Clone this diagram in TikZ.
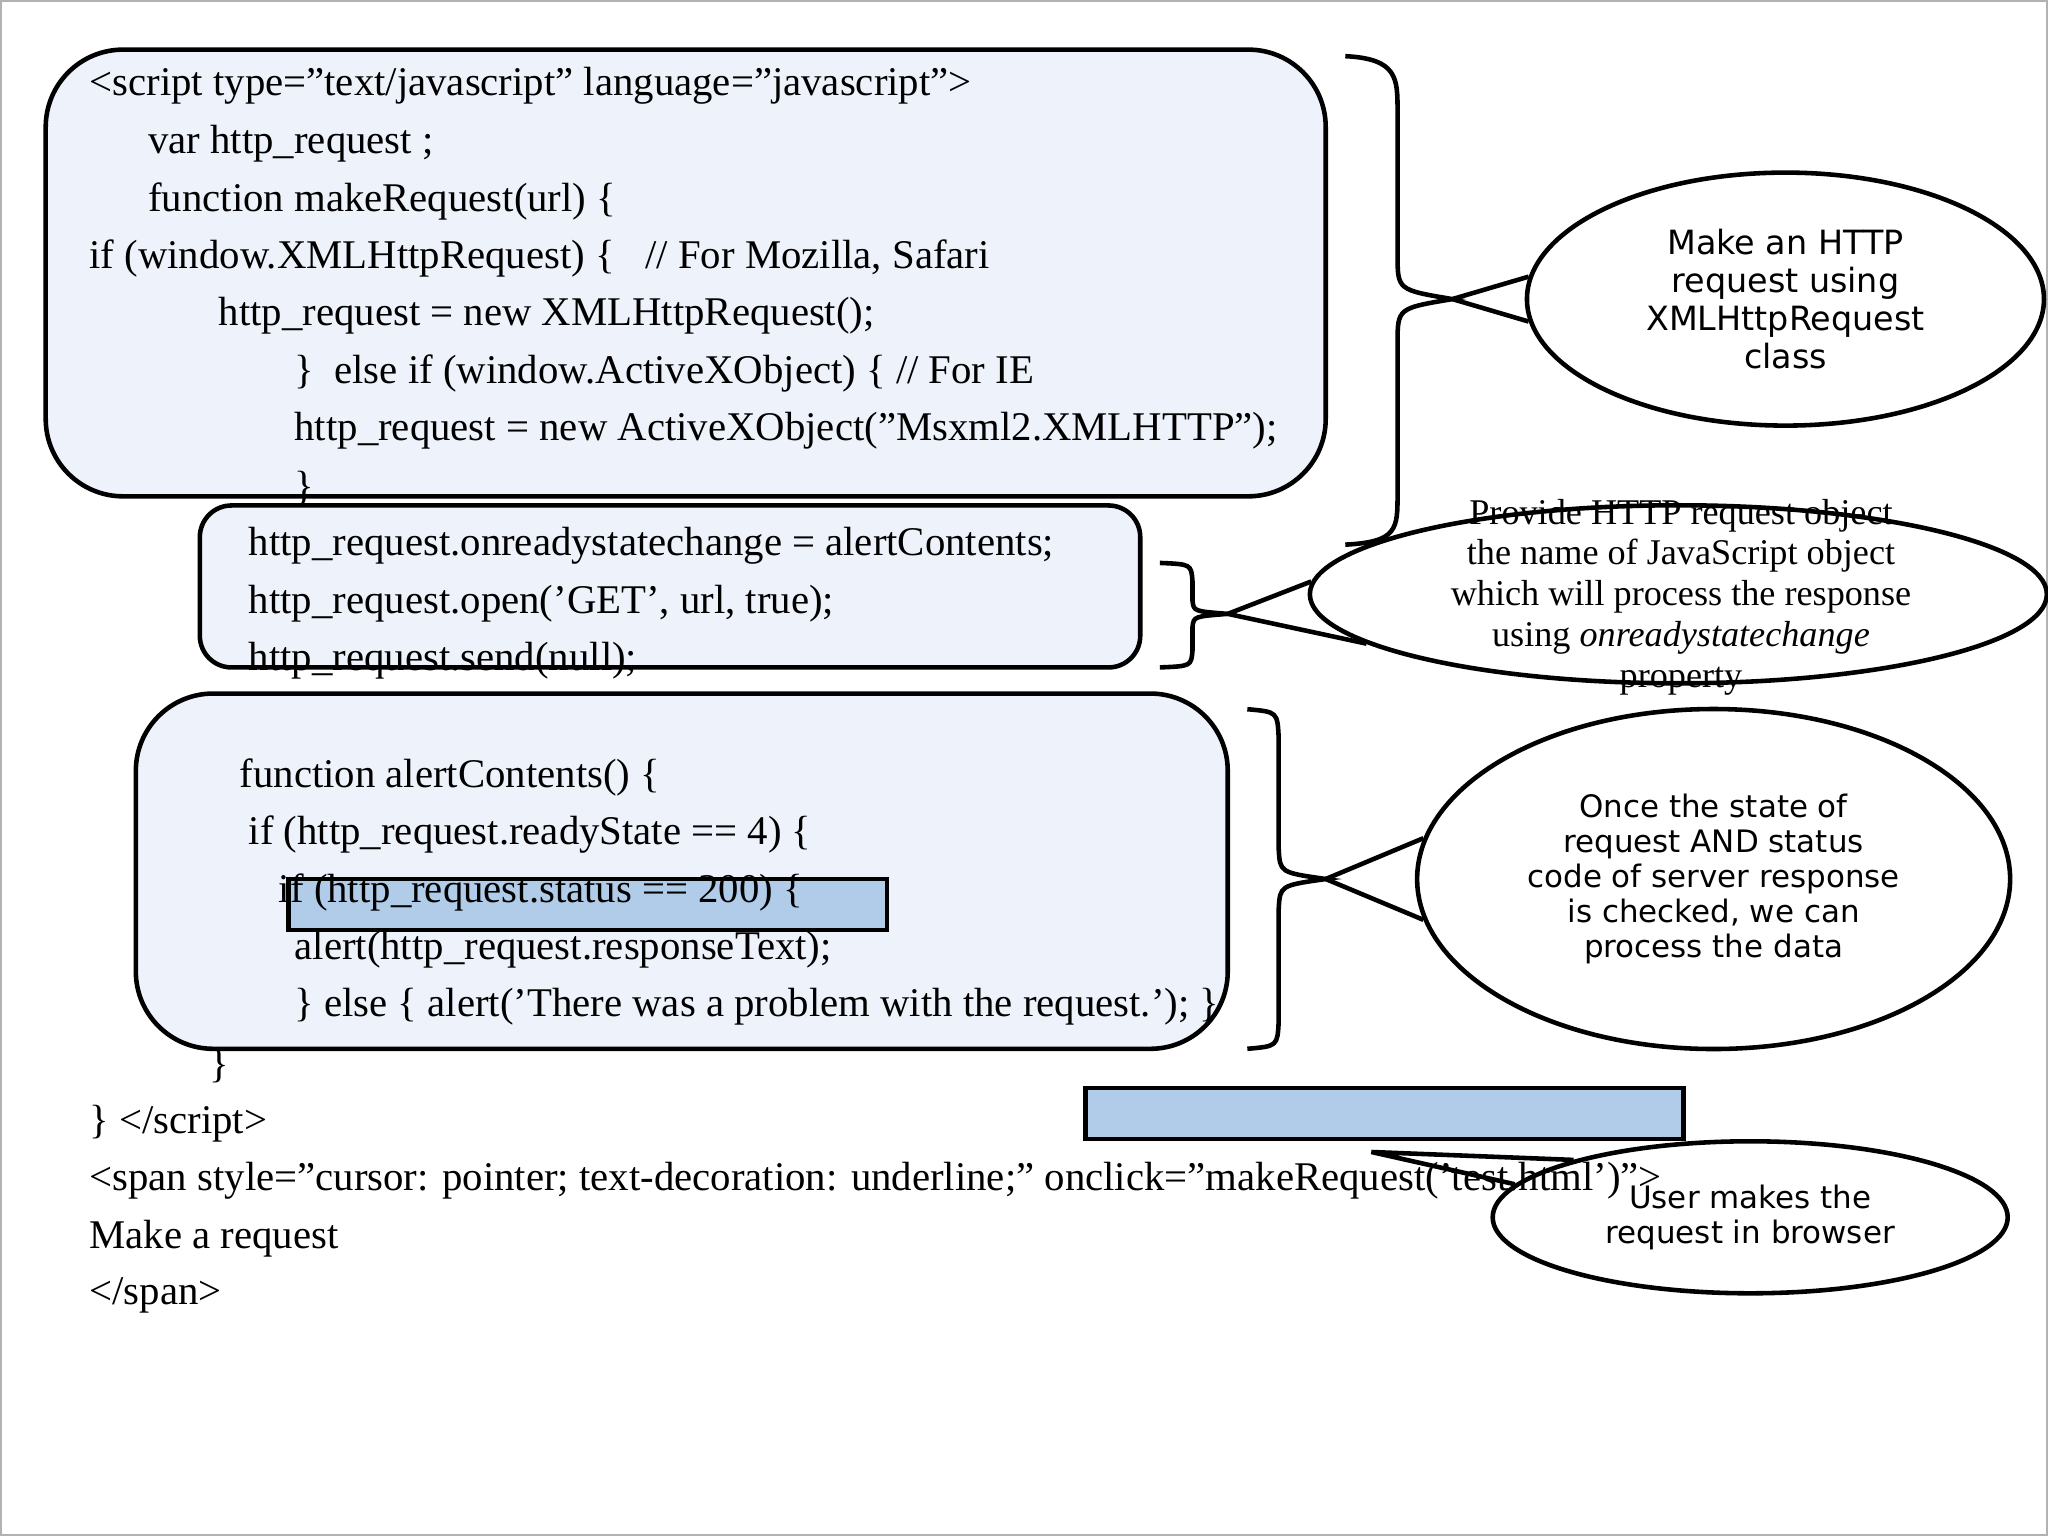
\documentclass[tikz,border=0pt]{standalone}
\usepackage{fontspec}
\setmainfont{Liberation Serif}
\newfontfamily\calloutfont{DejaVu Sans}
\usetikzlibrary{positioning, shapes.geometric}
\definecolor{boxfill}{HTML}{EEF3FB}
\definecolor{markfill}{HTML}{B0CCE8}
\newcommand{\dq}{\symbol{"22}}
\newcommand{\sq}{\symbol{"27}}
\tikzset{
  codebox/.style={draw, line width=1.3pt, fill=boxfill},
  hilite/.style={draw, line width=1.3pt, fill=markfill},
  bubble/.style={ellipse, draw, line width=1.3pt, inner sep=0pt},
  code/.style={anchor=west, inner sep=0pt, font=\fontsize{11.6}{14}\selectfont},
  note/.style={align=center, inner sep=0pt, font=\calloutfont\fontsize{8.8}{9.9}\selectfont},
  snote/.style={align=center, inner sep=0pt, font=\fontsize{10.3}{11.6}\selectfont},
  brace/.style={draw, line width=1.3pt},
}
\begin{document}
\begin{tikzpicture}[x=0.01306cm, y=-0.01306cm]
    \useasboundingbox (0,0) rectangle (1568,1176);
    \draw[gray!60, line width=0.6pt] (1,1) rectangle (1567,1175);

    % code boxes
    \draw[codebox, rounded corners=22pt] (35,38) rectangle (1015,380);
    \draw[codebox, rounded corners=9pt] (153,387) rectangle (873,511);
    \draw[codebox, rounded corners=22pt] (104,531) rectangle (940,803);
    \draw[hilite] (221,673) rectangle (679,712);
    \draw[hilite] (831,833) rectangle (1289,872);

    % code lines
    \node[code] (l1) at (68,66) {<script type=\dq text/javascript\dq\ language=\dq javascript\dq>};
    \node[code] (l2) at (113,110) {var http\_request ;};
    \node[code] (l3) at (113,154) {function makeRequest(url) \{};
    \node[code] (l4) at (68,198) {if (window.XMLHttpRequest) \{ \ \ // For Mozilla, Safari};
    \node[code] (l5) at (167,242) {http\_request = new XMLHttpRequest();};
    \node[code] (l6) at (225,286) {\} \ else if (window.ActiveXObject) \{ // For IE};
    \node[code] (l7) at (225,330) {http\_request = new ActiveXObject(\dq Msxml2.XMLHTTP\dq);};
    \node[code] (l8) at (225,374) {\}};
    \node[code] (l9) at (190,418) {http\_request.onreadystatechange = alertContents;};
    \node[code] (l10) at (190,462) {http\_request.open(\sq GET\sq, url, true);};
    \node[code] (l11) at (190,506) {http\_request.send(null);};
    \node[code] (l12) at (183,595) {function alertContents() \{};
    \node[code] (l13) at (190,639) {if (http\_request.readyState == 4) \{};
    \node[code] (l14) at (213,683) {if (http\_request.status == 200) \{};
    \node[code] (l15) at (225,727) {alert(http\_request.responseText);};
    \node[code] (l16) at (225,771) {\} else \{ alert(\sq There was a problem with the request.\sq); \}};
    \node[code] (l17) at (160,816) {\}};
    \node[code] (l18) at (68,860) {\} </script>};
    \node[code] (l19) at (68,904) {<span style=\dq cursor: pointer; text-decoration: underline;\dq\ onclick=\dq makeRequest(\sq test.html\sq)\dq>};
    \node[code] (l20) at (68,948) {Make a request};
    \node[code] (l21) at (68,992) {</span>};

    % braces
    \coordinate (tipA) at (1112,229);
    \coordinate (tipB) at (940,470);
    \coordinate (tipC) at (1015,673);
    \coordinate (tipD) at (1050,882);
    \draw[brace] (1030,43) .. controls (1070,45) and (1070,60) .. (1070,85) -- (1070,195)
        .. controls (1070,222) .. (tipA) .. controls (1070,236) .. (1070,263) -- (1070,378)
        .. controls (1070,405) and (1070,415) .. (1030,417);
    \draw[brace] (888,431) .. controls (912,432) .. (913,445) -- (913,460)
        .. controls (914,468) .. (tipB) .. controls (914,472) .. (913,480) -- (913,498)
        .. controls (912,510) .. (888,511);
    \draw[brace] (955,543) .. controls (978,545) .. (979,565) -- (979,650)
        .. controls (980,668) .. (tipC) .. controls (980,678) .. (979,696) -- (979,782)
        .. controls (978,801) .. (955,803);

    % callouts
    \node[bubble, minimum width=5.17cm, minimum height=2.53cm] (ellA) at (1367,229) {};
    \node[bubble, minimum width=7.37cm, minimum height=1.78cm] (ellB) at (1285,455) {};
    \node[bubble, minimum width=5.93cm, minimum height=3.40cm] (ellC) at (1312,673) {};
    \node[bubble, minimum width=5.15cm, minimum height=1.52cm] (ellD) at (1340,932) {};
    \draw[line width=1.3pt] (ellA.175) -- (tipA) -- (ellA.185);
    \draw[line width=1.3pt] (ellB.178) -- (tipB) -- (ellB.189);
    \draw[line width=1.3pt] (ellC.172) -- (tipC) -- (ellC.188);
    \draw[line width=1.3pt] (ellD.162) -- (tipD) -- (ellD.172);

    \node[note, font=\calloutfont\fontsize{9.5}{10.8}\selectfont] (tA) at (1367,229) {Make an HTTP\\request using\\XMLHttpRequest\\class};
    \node[snote] (tB) at (1287,457) {Provide HTTP request object\\the name of JavaScript object\\which will process the response\\using \emph{onreadystatechange}\\property};
    \node[note] (tC) at (1312,673) {Once the state of\\request AND status\\code of server response\\is checked, we can\\process the data};
    \node[note] (tD) at (1340,932) {User makes the\\request in browser};
\end{tikzpicture}
\end{document}
